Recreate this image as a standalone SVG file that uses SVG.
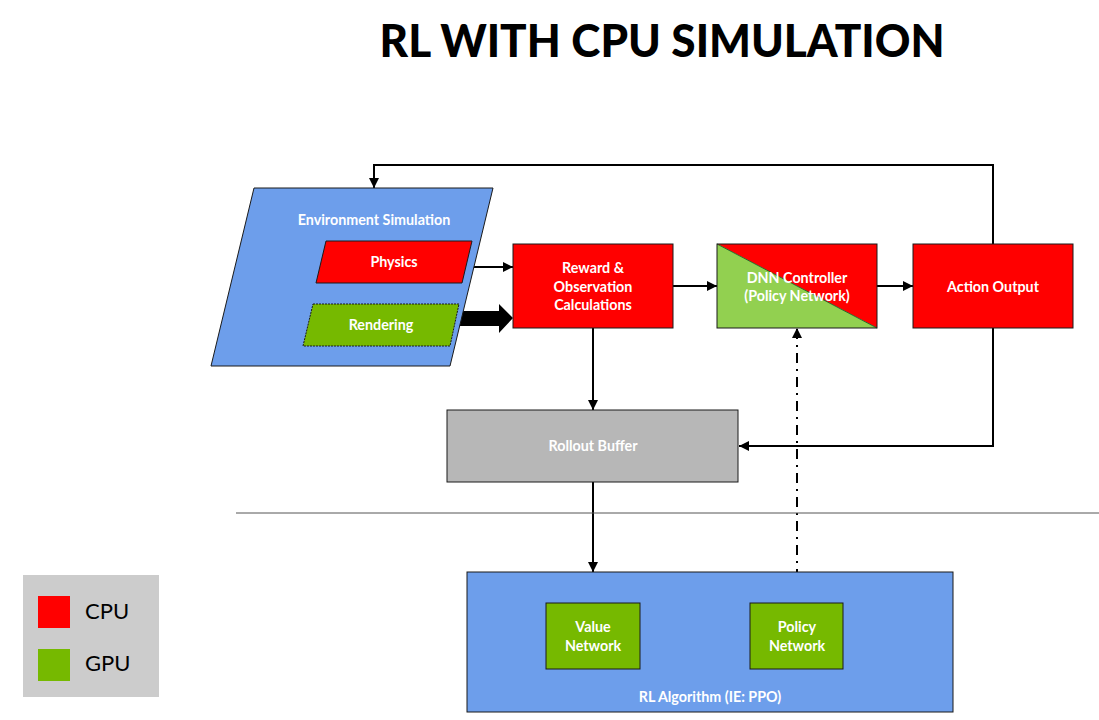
<svg xmlns="http://www.w3.org/2000/svg" width="1099" height="720" viewBox="0 0 1099 720">
<style>
.lbl{font-family:Lato,"Open Sans",sans-serif;font-weight:700;font-size:14.3px;fill:#fff;text-anchor:middle}
.box{stroke:#1a1a1a;stroke-width:1}
.conn{fill:none;stroke:#000;stroke-width:2}
</style>
<defs>
<marker id="ah" viewBox="0 0 10 10" refX="10" refY="5" markerWidth="5" markerHeight="5" orient="auto" markerUnits="strokeWidth">
<path d="M0,0 L10,5 L0,10 z" fill="#000"/>
</marker>
</defs>
<rect width="1099" height="720" fill="#fff"/>
<text x="662" y="57" font-family="Lato,'Open Sans',sans-serif" font-weight="900" font-size="46" text-anchor="middle" textLength="565" lengthAdjust="spacingAndGlyphs" fill="#000">RL WITH CPU SIMULATION</text>

<g id="connectors">
<polyline class="conn" points="993,244 993,165 374,165 374,188" marker-end="url(#ah)"/>
<polyline class="conn" points="993,328 993,446 739,446" marker-end="url(#ah)"/>
<line class="conn" x1="465" y1="267" x2="513" y2="267" marker-end="url(#ah)"/>
<path d="M457,311 L499,311 L499,304 L513,318 L499,333 L499,326 L457,326 z" fill="#000"/>
<line class="conn" x1="673" y1="286" x2="717" y2="286" marker-end="url(#ah)"/>
<line class="conn" x1="877" y1="286" x2="913" y2="286" marker-end="url(#ah)"/>
<line class="conn" x1="593" y1="328" x2="593" y2="410" marker-end="url(#ah)"/>
<line class="conn" x1="593" y1="482" x2="593" y2="572" marker-end="url(#ah)"/>
<line class="conn" x1="797" y1="603" x2="797" y2="328" stroke-dasharray="10,6,2,6" marker-end="url(#ah)"/>
</g>

<line id="separator" x1="236" y1="513" x2="1099" y2="513" stroke="#555" stroke-width="1"/>

<g id="env">
<polygon class="box" points="254,188 493,188 450,366 211,366" fill="#6D9EEB"/>
<text class="lbl" x="374" y="225">Environment Simulation</text>
</g>
<g id="physics">
<polygon class="box" points="326,241 472,241 462,283 316,283" fill="#FF0000"/>
<text class="lbl" x="394" y="267">Physics</text>
</g>
<g id="rendering">
<polygon points="313,304 459,304 450,346 303,346" fill="#76B900" stroke="#1a1a1a" stroke-width="1" stroke-dasharray="2,1"/>
<text class="lbl" x="381" y="330">Rendering</text>
</g>
<g id="reward">
<rect class="box" x="513" y="244" width="160" height="84" fill="#FF0000"/>
<text class="lbl" x="593" y="273">Reward &amp;</text>
<text class="lbl" x="593" y="292">Observation</text>
<text class="lbl" x="593" y="310">Calculations</text>
</g>
<g id="dnn">
<polygon points="717,244 877,244 877,328" fill="#FF0000"/>
<polygon points="717,244 877,328 717,328" fill="#92D050"/>
<line x1="717" y1="244" x2="877" y2="328" stroke="#2a6a2a" stroke-width="1"/>
<rect x="717" y="244" width="160" height="84" fill="none" stroke="#1a1a1a" stroke-width="1"/>
<text class="lbl" x="797" y="283">DNN Controller</text>
<text class="lbl" x="797" y="301">(Policy Network)</text>
</g>
<g id="action">
<rect class="box" x="913" y="244" width="160" height="84" fill="#FF0000"/>
<text class="lbl" x="993" y="292">Action Output</text>
</g>
<g id="rollout">
<rect class="box" x="447" y="410" width="291" height="72" fill="#B7B7B7"/>
<text class="lbl" x="593" y="451" fill="#f4f4f4">Rollout Buffer</text>
</g>
<g id="rl">
<rect class="box" x="467" y="572" width="486" height="140" fill="#6D9EEB"/>
<text class="lbl" x="710" y="702">RL Algorithm (IE: PPO)</text>
</g>
<g id="value">
<rect class="box" x="546" y="603" width="94" height="66" fill="#76B900"/>
<text class="lbl" x="593" y="632">Value</text>
<text class="lbl" x="593" y="651">Network</text>
</g>
<g id="policy">
<rect class="box" x="750" y="603" width="93" height="66" fill="#76B900"/>
<text class="lbl" x="797" y="632">Policy</text>
<text class="lbl" x="797" y="651">Network</text>
</g>
<g id="legend">
<rect x="23" y="575" width="136" height="122" fill="#CCCCCC"/>
<rect x="38" y="596" width="32" height="32" fill="#FF0000"/>
<rect x="38" y="649" width="32" height="32" fill="#76B900"/>
<text x="85" y="619" font-family="Lato,'Open Sans',sans-serif" font-size="22" fill="#000">CPU</text>
<text x="85" y="671" font-family="Lato,'Open Sans',sans-serif" font-size="22" fill="#000">GPU</text>
</g>
</svg>
